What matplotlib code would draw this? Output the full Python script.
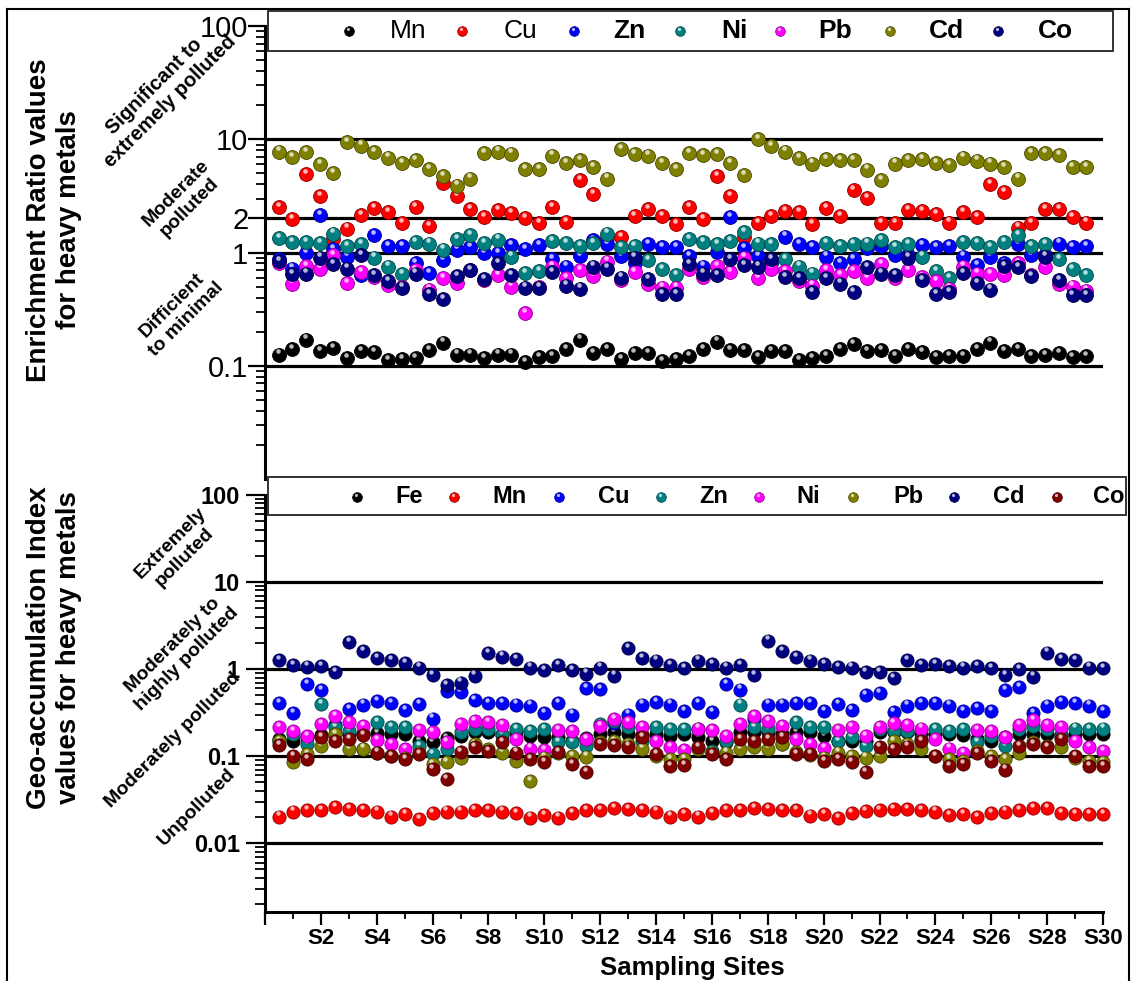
import numpy as np
import matplotlib
matplotlib.use('Agg')
import matplotlib.pyplot as plt
import matplotlib.colors as mcolors
from matplotlib import transforms
from matplotlib.lines import Line2D
from matplotlib.patches import Rectangle
from matplotlib.ticker import FixedLocator, FixedFormatter, LogLocator, NullFormatter

plt.rcParams['font.family'] = ['Liberation Sans', 'DejaVu Sans']

# ---------------- data ----------------
er_metals = ['Mn', 'Cu', 'Zn', 'Ni', 'Pb', 'Cd', 'Co']
er_colors = ['#000000', '#ff0000', '#0000ff', '#008080', '#ff00ff', '#808000', '#000080']

Mn_ER = [0.125,0.141,0.170,0.134,0.142,0.117,0.135,0.132,0.111,0.115,
         0.117,0.137,0.160,0.125,0.125,0.117,0.125,0.125,0.108,0.119,
         0.121,0.140,0.170,0.130,0.139,0.114,0.128,0.128,0.110,0.114,
         0.122,0.141,0.163,0.137,0.137,0.118,0.134,0.134,0.111,0.117,
         0.122,0.141,0.155,0.135,0.137,0.121,0.139,0.132,0.119,0.121,
         0.122,0.140,0.160,0.134,0.140,0.121,0.124,0.129,0.118,0.121]
Cu_ER = [2.50,1.97,4.93,3.15,1.31,1.63,2.14,2.48,2.26,1.81,
         2.50,1.72,4.08,3.15,2.42,2.07,2.37,2.24,2.03,1.81,
         2.50,1.87,4.37,3.26,1.35,1.36,2.10,2.40,2.11,1.77,
         2.50,1.99,4.74,3.17,1.38,1.83,2.10,2.34,2.26,1.77,
         2.48,2.11,3.56,3.05,1.81,1.81,2.37,2.34,2.17,1.84,
         2.26,2.07,4.00,3.44,1.66,1.83,2.40,2.42,2.04,1.84]
Zn_ER = [0.87,0.72,0.99,2.14,1.08,0.92,0.63,1.42,1.14,1.14,
         0.81,0.66,0.86,1.06,1.12,0.99,0.99,1.16,1.07,1.16,
         0.87,0.75,0.93,1.29,1.18,0.93,0.80,1.18,1.12,1.12,
         0.93,0.75,1.01,2.04,1.10,0.93,0.80,1.38,1.18,1.12,
         0.92,0.80,0.87,1.10,1.14,0.95,0.95,1.16,1.12,1.14,
         0.92,0.78,0.92,0.80,1.18,0.95,0.95,1.20,1.12,1.14]
Ni_ER = [1.33,1.24,1.23,1.22,1.47,1.14,1.19,0.90,0.75,0.64,
         1.23,1.20,1.06,1.31,1.42,1.22,1.30,0.92,0.66,0.68,
         1.27,1.22,1.14,1.22,1.47,1.12,1.14,0.86,0.71,0.63,
         1.31,1.24,1.18,1.27,1.52,1.20,1.19,0.88,0.75,0.65,
         1.22,1.14,1.18,1.20,1.29,1.11,1.19,0.92,0.68,0.59,
         1.24,1.22,1.12,1.24,1.42,1.14,1.19,0.88,0.71,0.63]
Pb_ER = [0.80,0.53,0.76,0.72,0.95,0.54,0.67,0.61,0.52,0.50,
         0.70,0.47,0.59,0.54,0.70,0.57,0.63,0.50,0.29,0.50,
         0.75,0.59,0.70,0.62,0.83,0.57,0.67,0.53,0.49,0.49,
         0.71,0.61,0.76,0.67,0.90,0.59,0.72,0.69,0.56,0.51,
         0.70,0.63,0.69,0.59,0.79,0.59,0.70,0.61,0.56,0.48,
         0.75,0.65,0.64,0.63,0.81,0.63,0.75,0.53,0.50,0.46]
Cd_ER = [7.8,7.0,7.7,6.0,5.0,9.5,8.8,7.7,6.9,6.2,
         6.6,5.5,4.7,3.9,4.5,7.6,7.8,7.5,5.5,5.5,
         7.2,6.2,6.6,5.7,4.5,8.2,7.4,7.2,6.2,5.5,
         7.6,7.3,7.4,6.2,4.8,10.1,8.7,7.8,6.8,6.1,
         6.7,6.6,6.6,5.4,4.4,6.1,6.6,6.7,6.2,5.9,
         6.9,6.5,6.1,5.7,4.5,7.6,7.6,7.3,5.7,5.7]
Co_ER = [0.84,0.64,0.65,0.90,0.79,0.72,0.95,0.63,0.56,0.49,
         0.65,0.43,0.39,0.62,0.70,0.58,0.81,0.63,0.49,0.49,
         0.67,0.51,0.48,0.75,0.72,0.60,0.90,0.58,0.43,0.43,
         0.79,0.65,0.63,0.88,0.78,0.75,0.87,0.61,0.59,0.45,
         0.59,0.53,0.45,0.74,0.65,0.63,0.90,0.57,0.43,0.45,
         0.66,0.54,0.47,0.76,0.74,0.62,0.92,0.57,0.42,0.42]

gi_metals = ['Fe', 'Mn', 'Cu', 'Zn', 'Ni', 'Pb', 'Cd', 'Co']
gi_colors = ['#000000', '#ff0000', '#0000ff', '#008080', '#ff00ff', '#808000', '#000080', '#800000']

Fe_GI = [0.157,0.150,0.165,0.175,0.180,0.182,0.178,0.183,0.179,0.179,
         0.150,0.146,0.160,0.171,0.187,0.187,0.177,0.187,0.171,0.168,
         0.165,0.150,0.160,0.179,0.187,0.180,0.175,0.179,0.171,0.179,
         0.165,0.150,0.146,0.187,0.190,0.187,0.180,0.187,0.187,0.171,
         0.150,0.150,0.150,0.187,0.190,0.187,0.180,0.179,0.179,0.175,
         0.157,0.150,0.165,0.179,0.182,0.179,0.175,0.180,0.179,0.179]
Mn_GI = [0.0202,0.0231,0.0238,0.0242,0.0260,0.0249,0.0242,0.0231,0.0202,0.0216,
         0.0190,0.0221,0.0231,0.0231,0.0238,0.0242,0.0231,0.0221,0.0197,0.0212,
         0.0197,0.0221,0.0238,0.0238,0.0253,0.0249,0.0238,0.0231,0.0202,0.0216,
         0.0202,0.0221,0.0238,0.0242,0.0253,0.0249,0.0242,0.0238,0.0208,0.0216,
         0.0194,0.0221,0.0235,0.0242,0.0249,0.0249,0.0242,0.0231,0.0212,0.0216,
         0.0199,0.0221,0.0231,0.0242,0.0253,0.0253,0.0221,0.0217,0.0217,0.0217]
Cu_GI = [0.41,0.31,0.67,0.57,0.23,0.35,0.39,0.43,0.41,0.34,
         0.40,0.27,0.56,0.55,0.44,0.41,0.41,0.39,0.38,0.31,
         0.41,0.30,0.60,0.59,0.24,0.30,0.39,0.42,0.39,0.33,
         0.41,0.32,0.67,0.58,0.27,0.39,0.39,0.41,0.41,0.33,
         0.40,0.34,0.50,0.53,0.32,0.38,0.41,0.41,0.38,0.33,
         0.36,0.33,0.57,0.62,0.31,0.38,0.42,0.41,0.38,0.33]
Zn_GI = [0.150,0.179,0.137,0.40,0.214,0.196,0.120,0.248,0.214,0.214,
         0.131,0.105,0.120,0.187,0.207,0.204,0.179,0.204,0.196,0.204,
         0.146,0.146,0.131,0.233,0.255,0.214,0.150,0.214,0.204,0.204,
         0.204,0.115,0.150,0.39,0.214,0.204,0.137,0.244,0.214,0.214,
         0.150,0.164,0.131,0.204,0.196,0.196,0.157,0.204,0.196,0.204,
         0.146,0.171,0.131,0.204,0.223,0.204,0.171,0.207,0.204,0.207]
Ni_GI = [0.217,0.196,0.171,0.233,0.286,0.248,0.223,0.153,0.137,0.120,
         0.199,0.187,0.146,0.233,0.255,0.244,0.229,0.157,0.122,0.118,
         0.199,0.196,0.157,0.223,0.266,0.244,0.214,0.150,0.128,0.117,
         0.207,0.201,0.171,0.233,0.291,0.255,0.223,0.157,0.137,0.125,
         0.199,0.214,0.171,0.214,0.240,0.229,0.207,0.157,0.122,0.108,
         0.201,0.196,0.164,0.229,0.262,0.229,0.214,0.150,0.128,0.115]
Pb_GI = [0.150,0.085,0.105,0.131,0.179,0.120,0.122,0.110,0.101,0.096,
         0.110,0.081,0.085,0.096,0.137,0.120,0.110,0.087,0.052,0.096,
         0.110,0.101,0.099,0.144,0.150,0.137,0.122,0.101,0.092,0.092,
         0.122,0.110,0.110,0.120,0.126,0.122,0.137,0.112,0.103,0.096,
         0.110,0.101,0.096,0.101,0.150,0.137,0.122,0.101,0.092,0.088,
         0.115,0.101,0.092,0.110,0.146,0.131,0.126,0.094,0.088,0.085]
Cd_GI = [1.27,1.11,1.07,1.09,0.92,2.06,1.60,1.34,1.27,1.16,
         1.04,0.86,0.65,0.70,0.84,1.53,1.39,1.30,1.04,0.97,
         1.11,0.97,0.89,1.04,0.84,1.74,1.34,1.25,1.11,1.02,
         1.25,1.14,1.04,1.11,0.86,2.12,1.62,1.36,1.25,1.14,
         1.06,1.04,0.93,0.92,0.79,1.27,1.12,1.14,1.09,1.04,
         1.09,1.02,0.86,1.00,0.82,1.55,1.30,1.27,1.04,1.03]
Co_GI = [0.134,0.101,0.092,0.164,0.150,0.157,0.176,0.110,0.101,0.092,
         0.105,0.071,0.055,0.112,0.126,0.115,0.146,0.110,0.092,0.086,
         0.112,0.081,0.066,0.137,0.134,0.129,0.164,0.105,0.077,0.079,
         0.126,0.105,0.092,0.157,0.150,0.157,0.164,0.105,0.105,0.088,
         0.092,0.086,0.065,0.126,0.120,0.129,0.150,0.101,0.077,0.081,
         0.108,0.088,0.070,0.131,0.137,0.126,0.157,0.101,0.077,0.077]

site_ticks = list(range(0, 31, 2))
site_labels = [''] + ['S%d' % s for s in range(2, 31, 2)]

er_ticks = [0.1, 1, 2, 10, 100]
er_ticklabels = ['0.1', '1', '2', '10', '100']
er_lines = [0.1, 1, 2, 10]
gi_ticks = [0.01, 0.1, 1, 10, 100]
gi_ticklabels = ['0.01', '0.1', '1', '10', '100']
gi_lines = [0.01, 0.1, 1, 10]

er_series = [Mn_ER, Cu_ER, Zn_ER, Ni_ER, Pb_ER, Cd_ER, Co_ER]
gi_series = [Fe_GI, Mn_GI, Cu_GI, Zn_GI, Ni_GI, Pb_GI, Cd_GI, Co_GI]

# x positions of the 60 samples (two per site)
x_er = 0.49 * np.arange(1, 61)
x_gi = 0.5 * np.arange(1, 61)

# ---------------- figure ----------------
W, H = 1136, 981
fig = plt.figure(figsize=(W / 100, H / 100), dpi=100)


def fx(px):
    return px / W


def fy(py):
    return 1 - py / H


def balls(ax, x, y, color, ms):
    rgb = np.array(mcolors.to_rgb(color))
    edge = rgb * 0.55
    hi = rgb + (1 - rgb) * 0.72
    ax.plot(x, y, ls='none', marker='o', ms=ms, mfc=color, mec=edge, mew=0.6,
            clip_on=False, zorder=3)
    off = transforms.offset_copy(ax.transData, fig=fig, x=-0.8, y=2.3, units='points')
    ax.plot(x, y, ls='none', marker='o', ms=ms * 0.33, mfc=hi, mec='none',
            transform=off, clip_on=False, zorder=3)


def style_axis(ax, bottom):
    ax.set_yscale('log')
    ax.set_xlim(0, 30)
    for s in ['top', 'right']:
        ax.spines[s].set_visible(False)
    ax.spines['left'].set_linewidth(2.2)
    if bottom:
        ax.spines['bottom'].set_linewidth(2.2)
    else:
        ax.spines['bottom'].set_visible(False)
    ax.tick_params(axis='y', which='major', direction='out', length=12, width=1.6)
    ax.tick_params(axis='y', which='minor', direction='out', length=6.5, width=1.3)
    ax.yaxis.set_minor_locator(LogLocator(base=10, subs=np.arange(2, 10)))
    ax.yaxis.set_minor_formatter(NullFormatter())


# top panel
ax1 = fig.add_axes([fx(265), fy(478.7), fx(1103) - fx(265), fy(26.3) - fy(478.7)])
style_axis(ax1, bottom=False)
ax1.set_ylim(0.01, 100)
ax1.yaxis.set_major_locator(FixedLocator(er_ticks))
ax1.yaxis.set_major_formatter(FixedFormatter(er_ticklabels))
ax1.tick_params(axis='y', labelsize=21, pad=0)
ax1.set_xticks([])
for v in er_lines:
    ax1.axhline(v, color='black', lw=2.3, zorder=1)
for vals, c in zip(er_series, er_colors):
    balls(ax1, x_er, vals, c, 10)

# bottom panel
ax2 = fig.add_axes([fx(265), fy(912), fx(1103) - fx(265), fy(495) - fy(912)])
style_axis(ax2, bottom=True)
ax2.set_ylim(0.00162, 100)
ax2.yaxis.set_major_locator(FixedLocator(gi_ticks))
ax2.yaxis.set_major_formatter(FixedFormatter(gi_ticklabels))
ax2.tick_params(axis='y', which='major', length=14, labelsize=17, pad=4)
ax2.tick_params(axis='y', which='minor', length=7)
for lab in ax2.get_yticklabels():
    lab.set_fontweight('bold')
ax2.set_xticks(site_ticks)
ax2.set_xticklabels(site_labels, fontsize=16, fontweight='bold')
ax2.set_xticks(range(1, 30, 2), minor=True)
ax2.tick_params(axis='x', which='major', direction='out', length=9.5, width=1.6, pad=2)
ax2.tick_params(axis='x', which='minor', direction='out', length=5, width=1.3)
for v in gi_lines:
    ax2.axhline(v, color='black', lw=2.3, zorder=1)
for vals, c in zip(gi_series, gi_colors):
    balls(ax2, x_gi, vals, c, 9.5)

# axis titles
fig.text(fx(54), fy(220), 'Enrichment Ratio values\nfor heavy metals', rotation=90,
         ha='center', va='center', multialignment='center', fontsize=20, fontweight='bold')
fig.text(fx(54), fy(648), 'Geo-accumulation Index\nvalues for heavy metals', rotation=90,
         ha='center', va='center', multialignment='center', fontsize=20, fontweight='bold')
fig.text(fx(692), fy(975.5), 'Sampling Sites', ha='center', va='baseline',
         fontsize=18.5, fontweight='bold')

# category annotations
notes = [
    ('Significant to\nextremely polluted', 162, 94, 14.5),
    ('Moderate\npolluted', 183, 200, 14),
    ('Difficient\nto minimal', 179, 312, 14),
    ('Extremely\npolluted', 178, 550, 14),
    ('Moderately to\nhighly polluted', 180, 652, 14),
    ('Moderately polluted', 173, 740, 14),
    ('Unpolluted', 197, 807, 14),
]
for txt, cx, cy, fs in notes:
    fig.text(fx(cx), fy(cy), txt, rotation=45, rotation_mode='anchor', ha='center',
             va='center', multialignment='center', fontsize=fs, fontweight='bold')


# legends (drawn at figure level)
def legend_box(x0, y0, x1, y1, names, colors, mxs, txs, ycen, fsize, weights):
    fig.add_artist(Rectangle((fx(x0), fy(y1)), fx(x1) - fx(x0), fy(y0) - fy(y1),
                             transform=fig.transFigure, facecolor='white',
                             edgecolor='#333333', lw=1.4, zorder=5))
    for n, c, mx, tx, wt in zip(names, colors, mxs, txs, weights):
        rgb = np.array(mcolors.to_rgb(c))
        fig.add_artist(Line2D([fx(mx)], [fy(ycen)], transform=fig.transFigure, ls='none',
                              marker='o', ms=7, mfc=c, mec=rgb * 0.55, mew=0.5, zorder=6))
        fig.add_artist(Line2D([fx(mx - 0.6)], [fy(ycen - 2.2)], transform=fig.transFigure,
                              ls='none', marker='o', ms=2.3, mfc=rgb + (1 - rgb) * 0.72,
                              mec='none', zorder=6))
        fig.text(fx(tx), fy(ycen), n, ha='left', va='center', fontsize=fsize,
                 fontweight=wt, zorder=7)


legend_box(268, 11, 1113, 51, er_metals, er_colors,
           [349, 462, 574, 680, 780, 890, 998],
           [390, 504, 613, 721, 818, 929, 1038], 31, 19,
           ['normal', 'normal', 'bold', 'bold', 'bold', 'bold', 'bold'])
legend_box(268, 477, 1126, 515, gi_metals, gi_colors,
           [357, 454, 559, 661, 759, 853, 954, 1057],
           [395, 492, 598, 699, 796, 893, 993, 1093], 497, 17, ['bold'] * 8)

# outer frame
for xs, ys in [([7, 7], [9, 981]), ([7, 1129], [9, 9]), ([1129, 1129], [9, 981])]:
    fig.add_artist(Line2D([fx(v) for v in xs], [fy(v) for v in ys],
                          transform=fig.transFigure, color='black', lw=1.5, zorder=8))

fig.savefig('out.png', dpi=100)
